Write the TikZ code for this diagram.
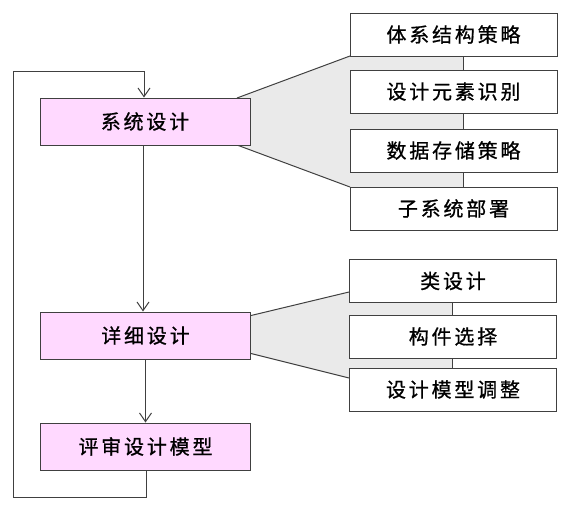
\documentclass[tikz,border=0pt]{standalone}
\usepackage{fontspec}
\newfontfamily\cjk[LetterSpace=14, FakeBold=0.8]{Noto Sans CJK SC}
\usepackage{xcolor}
\usepackage{tikz}
\usetikzlibrary{arrows.meta,positioning,calc}

\definecolor{stagepink}{RGB}{255,217,255}
\definecolor{fangrey}{RGB}{234,234,234}
\definecolor{linegrey}{RGB}{64,64,64}

\begin{document}
\begin{tikzpicture}[
    x=0.75pt, y=-0.75pt,
    >={Straight Barb[length=6.5pt,width=9pt]},
    stage/.style={draw=linegrey, line width=0.75pt, fill=stagepink,
                  minimum width=157.5pt, minimum height=35.25pt,
                  inner sep=0pt, align=center},
    task/.style={draw=linegrey, line width=0.75pt, fill=white,
                 minimum width=155.25pt, minimum height=32.25pt,
                 inner sep=0pt, align=center},
    link/.style={draw=linegrey, line width=0.75pt},
    arrow/.style={->, link},
    every node/.style={font=\cjk\fontsize{15}{18}\selectfont},
  ]
  \useasboundingbox (0,0) rectangle (569,511);

  % ── Fan coordinates ──
  \coordinate (fanA) at (463,0);
  \coordinate (fanB) at (452,0);

  % ── Grey fans (drawn first, boxes go on top) ──
  \fill[fangrey] (237,98) -- (350,56) -- (463,56) -- (463,187)
    -- (350,187) -- (237,145) -- cycle;
  \fill[fangrey] (249,316) -- (349,292) -- (452,292) -- (452,378)
    -- (349,378) -- (249,353) -- cycle;
  \draw[link] (237,98) -- (350,56);
  \draw[link] (237,145) -- (350,187);
  \draw[link] (249,316) -- (349,292);
  \draw[link] (249,353) -- (349,378);

  % ── Left column: stages ──
  \node[stage] at (145,121.5) (sys) {系统设计};
  \node[stage] at (145.5,335.5) (detail) {详细设计};
  \node[stage] at (145.5,446.5) (review) {评审设计模型};

  % ── Right column: system design tasks ──
  \node[task] at (453.5,34.5) (arch) {体系结构策略};
  \node[task] at (453.5,91.5) (elem) {设计元素识别};
  \node[task] at (453.5,150.5) (store) {数据存储策略};
  \node[task] at (453.5,208.5) (deploy) {子系统部署};

  % ── Right column: detail design tasks ──
  \node[task] at (453,281) (cls) {类设计};
  \node[task] at (453,336.5) (comp) {构件选择};
  \node[task] at (453,389.5) (adjust) {设计模型调整};

  % ── Connectors ──
  % task chains
  \draw[link] (arch.south -| fanA) -- (elem.north -| fanA);
  \draw[link] (elem.south -| fanA) -- (store.north -| fanA);
  \draw[link] (store.south -| fanA) -- (deploy.north -| fanA);
  \draw[link] (cls.south -| fanB) -- (comp.north -| fanB);
  \draw[link] (comp.south -| fanB) -- (adjust.north -| fanB);

  % stage flow
  \draw[arrow] (sys.south -| 143,0) -- (detail.north -| 143,0);
  \draw[arrow] (detail) -- (review);

  % review loops back
  \coordinate (loopA) at (146,497);
  \coordinate (loopB) at (13,71);
  \draw[arrow] (review.south -| loopA) -- (loopA) -| (loopB)
    -| (sys.north -| 144,0);

\end{tikzpicture}
\end{document}
